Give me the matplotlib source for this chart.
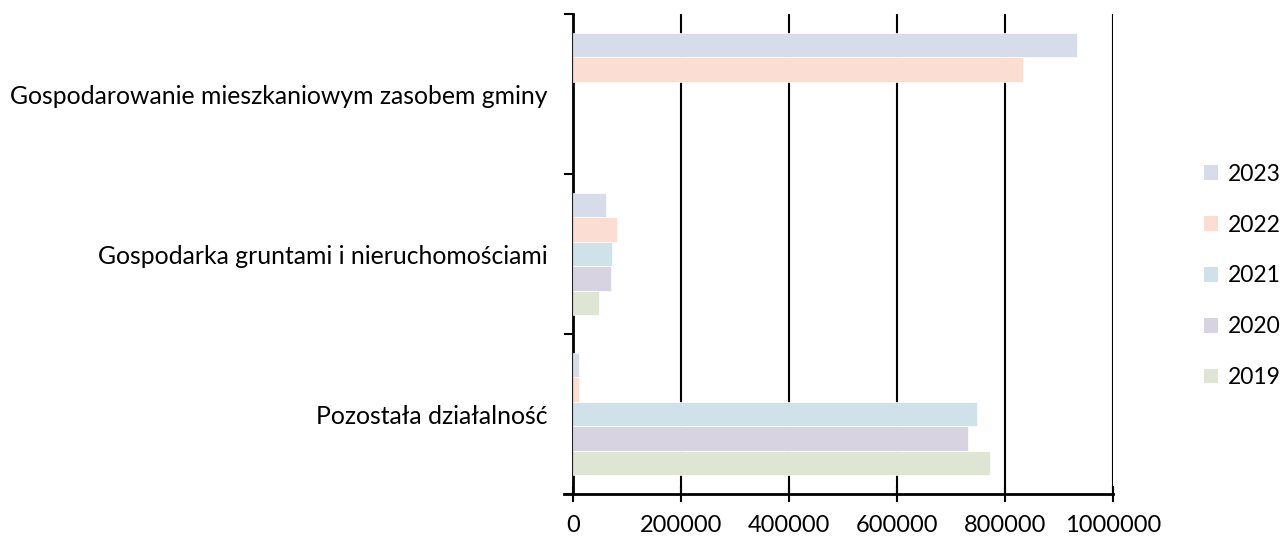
import matplotlib
matplotlib.use("Agg")
import matplotlib.pyplot as plt
import numpy as np
from matplotlib.patches import Patch

plt.rcParams['font.family'] = ['Lato', 'DejaVu Sans']

categories = ["Pozostała działalność",
              "Gospodarka gruntami i nieruchomościami",
              "Gospodarowanie mieszkaniowym zasobem gminy"]
years = ["2019", "2020", "2021", "2022", "2023"]
values = {
    "2019": [773000, 47600, np.nan],
    "2020": [732000, 70500, np.nan],
    "2021": [748800, 71800, np.nan],
    "2022": [11700, 80600, 834000],
    "2023": [11700, 60200, 933000],
}
colors = {
    "2019": "#DEE6D3",
    "2020": "#D8D3E1",
    "2021": "#D0E2E9",
    "2022": "#FCDDD2",
    "2023": "#D6DCE9",
}
xticks = [0, 200000, 400000, 600000, 800000, 1000000]

FS = 17.8
LFS = 16.5
fig = plt.figure(figsize=(12.82, 5.38), dpi=100)
ax = fig.add_axes([573/1282, 1-494/538, 540/1282, 480/538])

h = 24.5/160
y = np.arange(len(categories))
for j, yr in enumerate(years):
    ax.barh(y + (j-2)*h, values[yr], height=h, color=colors[yr], zorder=3,
            edgecolor='white', linewidth=0.5)

ax.set_xlim(0, 1000000)
ax.set_ylim(-0.5, len(categories)-0.5)
ax.set_xticks(xticks)
ax.set_xticklabels([str(v) for v in xticks], fontsize=17)
ax.set_yticks(y)
ax.set_yticklabels(categories, fontsize=FS)
ax.set_yticks(np.arange(-0.5, len(categories)), minor=True)
ax.tick_params(axis='y', which='major', length=0, pad=18)
ax.tick_params(axis='y', which='minor', length=6.5, width=1.5, direction='out')
ax.tick_params(axis='x', which='major', length=12, width=1.5, direction='inout', pad=9)
ax.grid(axis='x', color='black', linewidth=1.5, zorder=0)
ax.set_axisbelow(True)
for s in ['top', 'right']:
    ax.spines[s].set_visible(False)
for s in ['left', 'bottom']:
    ax.spines[s].set_linewidth(2)
    ax.spines[s].set_color('black')
ax.spines['bottom'].set_bounds(-16000, 1000000)

handles = [Patch(facecolor=colors[yr], edgecolor='none', label=yr) for yr in reversed(years)]
fig.legend(handles=handles, loc='center left', bbox_to_anchor=(1204/1282, 1-276/538),
           frameon=False, fontsize=LFS, handlelength=0.61, handleheight=0.61,
           handletextpad=0.42, labelspacing=1.3, borderpad=0, borderaxespad=0)

fig.savefig("out.png", dpi=100)
